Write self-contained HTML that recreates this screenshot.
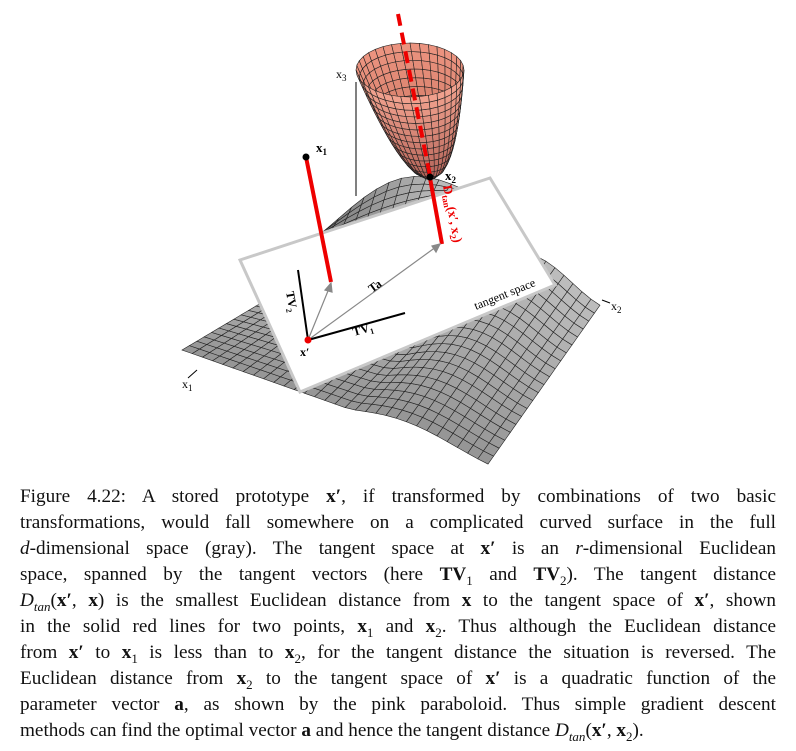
<!DOCTYPE html>
<html><head><meta charset="utf-8">
<style>
body{margin:0;background:#fff;width:796px;height:751px;overflow:hidden;position:relative;font-family:"Liberation Serif",serif;}
.cap{position:absolute;left:20px;width:756px;font-size:19.2px;line-height:26px;color:#111;}
.ln{display:block;text-align:justify;text-align-last:justify;white-space:nowrap;height:26px;}
.ln.last{text-align-last:left;}
b{font-weight:bold}
sub{font-size:13px;line-height:0}
</style></head><body>
<svg width="796" height="470" style="position:absolute;left:0;top:0" xmlns="http://www.w3.org/2000/svg">
<g id="surf"></g>
<line x1="356" y1="82" x2="356" y2="196" stroke="#000" stroke-width="1"/>
<text x="336" y="78" font-size="12">x<tspan font-size="9" dy="3">3</tspan></text>
<g id="hill"></g>
<polygon points="240,260 490,178 555,285 300,392" fill="#fff" stroke="#c8c8c8" stroke-width="3"/>
<g id="para"></g>
<line x1="398" y1="14" x2="430" y2="176" stroke="#e00" stroke-width="4" stroke-dasharray="12,7"/>
<line x1="306" y1="157" x2="331" y2="282" stroke="#e00" stroke-width="4"/>
<line x1="430" y1="178" x2="442" y2="244" stroke="#e00" stroke-width="4"/>
<circle cx="306" cy="157" r="3.5" fill="#000"/>
<circle cx="430" cy="177" r="3.5" fill="#000"/>
<text x="316" y="152" font-size="13" font-weight="bold">x<tspan font-size="9" dy="3">1</tspan></text>
<text x="445" y="180" font-size="13" font-weight="bold">x<tspan font-size="9" dy="3">2</tspan></text>
<text transform="translate(443,186) rotate(79)" font-size="13" font-weight="bold" fill="#e00">D<tspan font-size="9" dy="3">tan</tspan><tspan dy="-3">(x′, x</tspan><tspan font-size="9" dy="3">2</tspan><tspan dy="-3">)</tspan></text>
<g stroke="#888" stroke-width="1.2" fill="#888">
<line x1="308" y1="340" x2="440" y2="244"/><polygon points="440,244 432,246 436,252"/>
<line x1="308" y1="340" x2="330" y2="286"/><polygon points="331,283 325,290 332,292"/>
</g>
<line x1="308" y1="340" x2="298" y2="270" stroke="#000" stroke-width="2"/>
<line x1="308" y1="340" x2="405" y2="313" stroke="#000" stroke-width="2"/>
<circle cx="308" cy="340" r="3.5" fill="#e00"/>
<text x="300" y="356" font-size="12" font-weight="bold">x′</text>
<text transform="translate(372,293) rotate(-36)" font-size="12" font-weight="bold">Ta</text>
<text transform="translate(286,292) rotate(80)" font-size="12" font-weight="bold">TV<tspan font-size="8" dy="3">2</tspan></text>
<text transform="translate(354,336) rotate(-16)" font-size="12" font-weight="bold">TV<tspan font-size="8" dy="3">1</tspan></text>
<text transform="translate(476,310) rotate(-22)" font-size="12">tangent space</text>
<line x1="188" y1="378" x2="197" y2="370" stroke="#000"/>
<text x="182" y="388" font-size="12">x<tspan font-size="9" dy="3">1</tspan></text>
<line x1="602" y1="300" x2="610" y2="303" stroke="#000"/>
<text x="611" y="310" font-size="12">x<tspan font-size="9" dy="3">2</tspan></text>
</svg>
<div class="cap" style="top:484px">
<span class="ln">Figure 4.22: A stored prototype <b>x′</b>, if transformed by combinations of two basic</span>
<span class="ln">transformations, would fall somewhere on a complicated curved surface in the full</span>
<span class="ln"><i>d</i>-dimensional space (gray). The tangent space at <b>x′</b> is an <i>r</i>-dimensional Euclidean</span>
<span class="ln">space, spanned by the tangent vectors (here <b>TV</b><sub>1</sub> and <b>TV</b><sub>2</sub>). The tangent distance</span>
<span class="ln"><i>D<sub>tan</sub></i>(<b>x′</b>, <b>x</b>) is the smallest Euclidean distance from <b>x</b> to the tangent space of <b>x′</b>, shown</span>
<span class="ln">in the solid red lines for two points, <b>x</b><sub>1</sub> and <b>x</b><sub>2</sub>. Thus although the Euclidean distance</span>
<span class="ln">from <b>x′</b> to <b>x</b><sub>1</sub> is less than to <b>x</b><sub>2</sub>, for the tangent distance the situation is reversed. The</span>
<span class="ln">Euclidean distance from <b>x</b><sub>2</sub> to the tangent space of <b>x′</b> is a quadratic function of the</span>
<span class="ln">parameter vector <b>a</b>, as shown by the pink paraboloid. Thus simple gradient descent</span>
<span class="ln last">methods can find the optimal vector <b>a</b> and hence the tangent distance <i>D<sub>tan</sub></i>(<b>x′</b>, <b>x</b><sub>2</sub>).</span>
</div>
<script>
const NS="http://www.w3.org/2000/svg";
function P(u,v){
  const A=[182,350],B=[330,262],C=[600,285],D=[488,458];
  let x=(1-u)*(1-v)*A[0]+u*(1-v)*B[0]+u*v*C[0]+(1-u)*v*D[0];
  let y=(1-u)*(1-v)*A[1]+u*(1-v)*B[1]+u*v*C[1]+(1-u)*v*D[1];
  y+= v>0.55? -25*Math.sin((v-0.55)/0.45*Math.PI*1.3)*(0.3+0.7*u) : 0;
  return [x,y];
}
function mesh(g,f,n,m,fill){
  for(let i=0;i<n;i++)for(let j=0;j<m;j++){
    const a=f(i/n,j/m),b=f((i+1)/n,j/m),c=f((i+1)/n,(j+1)/m),d=f(i/n,(j+1)/m);
    const p=document.createElementNS(NS,"polygon");
    p.setAttribute("points",[a,b,c,d].map(q=>q.join(",")).join(" "));
    p.setAttribute("fill",typeof fill=="function"?fill(i/n,j/m):fill);
    p.setAttribute("stroke","#222");p.setAttribute("stroke-width","0.6");
    
    
    g.appendChild(p);
  }
}
mesh(document.getElementById("surf"),P,20,30,(u,v)=>{const s=150+Math.round(40*u);return `rgb(${s},${s},${s})`;});
mesh(document.getElementById("hill"),(u,v)=>{
  const x=314+150*v-10*u;
  const edge=260-(x-240)*82/250;
  const h=32*Math.sin(Math.PI*Math.pow(v,1.15))*(1-u);
  return [x, edge-h+3];
},4,12,(u,v)=>{const s=120+Math.round(80*v);return `rgb(${s},${s},${s})`;});
(function(){
  const g=document.getElementById("para");
  const bx=430,by=178,tx=410,ty=70,rx=54,ry=27;
  const f=(t,th)=>{const r=Math.sqrt(t);return [bx+(tx-bx)*t+rx*r*Math.cos(th),by-(by-ty)*t+ry*r*Math.sin(th)];};
  mesh(g,(u,v)=>f(0.01+0.99*v,Math.PI+Math.PI*u),18,14,(u,v)=>`rgb(${238-Math.round(40*(1-v))},${150-Math.round(40*(1-v))},${130-Math.round(40*(1-v))})`);
  mesh(g,(u,v)=>f(0.01+0.99*v,Math.PI*u),18,14,(u,v)=>`rgb(${245-Math.round(70*(1-v))},${165-Math.round(70*(1-v))},${145-Math.round(60*(1-v))})`);
})();
</script>
</body></html>
